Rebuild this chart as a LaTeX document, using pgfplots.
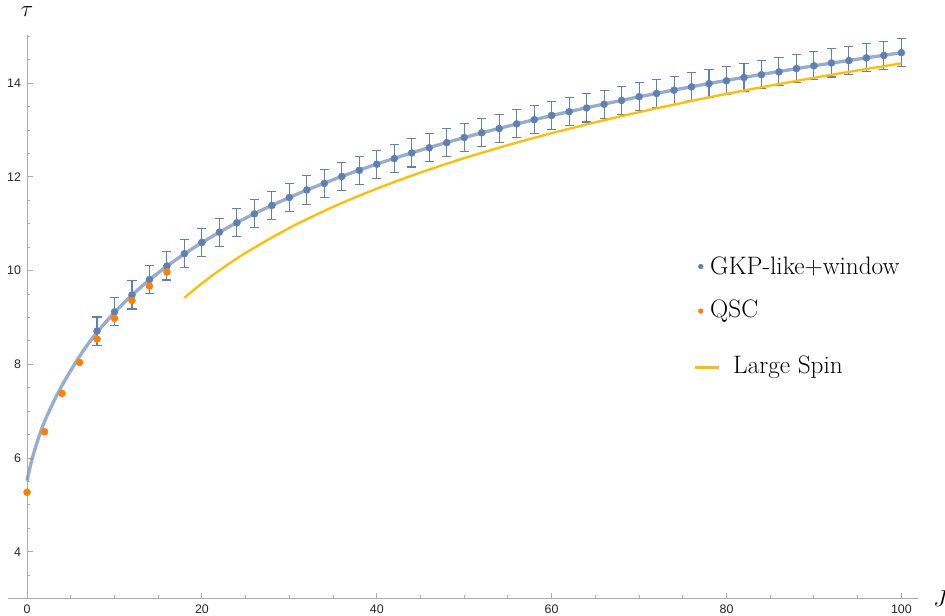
\documentclass[border=0pt]{standalone}
\usepackage{pgfplots}
\pgfplotsset{compat=1.18}
\usepackage{fontspec}
\newfontfamily\tickfont{Liberation Sans}
\definecolor{mblue}{HTML}{5E81B5}
\definecolor{morange}{HTML}{FF8000}
\definecolor{myellow}{HTML}{FFBF00}
\definecolor{axgray}{HTML}{ABABAB}
\begin{document}
\begin{tikzpicture}
\begin{axis}[
  name=ax,
  scale only axis, width=681.4pt, height=422.2pt,
  xmin=-2.18, xmax=101.9, ymin=3, ymax=15.03,
  axis x line=bottom, axis y line=middle,
  axis line style={axgray, line width=0.8pt, -},
  tick align=inside,
  xtick={0,20,...,100}, minor xtick={5,10,15,25,30,35,45,50,55,65,70,75,85,90,95},
  ytick={4,6,...,14}, minor ytick={3.5,4.5,5,5.5,6.5,7,7.5,8.5,9,9.5,10.5,11,11.5,12.5,13,13.5,14.5,15},
  major tick length=4.1pt, minor tick length=2.5pt,
  every tick/.style={axgray, line width=0.7pt},
  ticklabel style={font=\tickfont\fontsize{9.3}{11}\selectfont, text=black!85},
  /pgf/number format/assume math mode=true,
  xticklabel style={yshift=-1pt},
  yticklabel style={xshift=-1pt},
  clip=false,
  every axis y label/.style={at={(axis description cs:0.0209,1)}, anchor=south, yshift=10pt, font=\fontsize{16.9}{20}\selectfont},
  every axis x label/.style={at={(axis description cs:1,0)}, anchor=west, xshift=8pt, font=\fontsize{16.9}{20}\selectfont},
  xlabel={$J$}, ylabel={$\tau$},
  legend style={draw=none, fill=none, at={(axis cs:76.73,10.37)}, anchor=north west,
    font=\fontsize{18.9}{22}\selectfont, column sep=3.1pt, inner sep=0pt,
    nodes={inner sep=2pt}},
  legend cell align=left,
]
% blue smooth line
\addplot[mblue, opacity=0.65, line width=2.5pt, smooth, forget plot] coordinates {
(0,5.52) (0.5,5.93) (1,6.25) (1.5,6.53) (2,6.78) (3,7.19) (4,7.55) (5,7.87) (6,8.17) (7,8.44)
(8,8.683) (10,9.109) (12,9.478) (14,9.803) (16,10.094) (18,10.357) (20,10.598) (22,10.819)
(24,11.024) (26,11.214) (28,11.392) (30,11.560) (32,11.718) (34,11.867) (36,12.009) (38,12.144)
(40,12.272) (42,12.395) (44,12.512) (46,12.625) (48,12.733) (50,12.838) (52,12.938) (54,13.035)
(56,13.128) (58,13.219) (60,13.307) (62,13.392) (64,13.474) (66,13.554) (68,13.632) (70,13.708)
(72,13.781) (74,13.853) (76,13.923) (78,13.991) (80,14.058) (82,14.123) (84,14.186) (86,14.248)
(88,14.309) (90,14.369) (92,14.427) (94,14.484) (96,14.540) (98,14.594) (100,14.648)};
% blue points with error bars
\addplot[only marks, mark=*, mark size=2.6pt, mblue, forget plot,
  error bars/.cd, y dir=both, y fixed=0.3,
  error bar style={mblue, line width=0.8pt},
  error mark options={rotate=90, mark size=3.4pt, line width=0.8pt, mblue}] coordinates {
(8,8.71) (10,9.12) (12,9.48) (14,9.81) (16,10.10) (18,10.36) (20,10.60) (22,10.82)
(24,11.02) (26,11.21) (28,11.39) (30,11.56) (32,11.72) (34,11.86) (36,12.01) (38,12.14)
(40,12.27) (42,12.39) (44,12.51) (46,12.62) (48,12.73) (50,12.84) (52,12.94) (54,13.03)
(56,13.13) (58,13.22) (60,13.31) (62,13.39) (64,13.47) (66,13.55) (68,13.63) (70,13.71)
(72,13.78) (74,13.85) (76,13.92) (78,13.99) (80,14.05) (82,14.12) (84,14.18) (86,14.24)
(88,14.31) (90,14.37) (92,14.43) (94,14.48) (96,14.54) (98,14.59) (100,14.65)};
% orange points
\addplot[only marks, mark=*, mark size=2.6pt, morange, forget plot] coordinates {
(0,5.27) (2,6.56) (4,7.38) (6,8.04) (8,8.54) (10,8.98) (12,9.36) (14,9.67) (16,9.97)};
% yellow large spin
\addplot[myellow, line width=1.75pt, smooth, forget plot] coordinates {
(18,9.42) (20,9.727) (22,10.005) (25,10.378) (30,10.910) (35,11.359) (40,11.748) (45,12.092)
(50,12.399) (55,12.677) (60,12.931) (65,13.164) (70,13.380) (75,13.581) (80,13.770)
(85,13.947) (90,14.113) (95,14.271) (100,14.420)};
% legend
\addlegendimage{no markers, legend image code/.code={\draw[mblue, only marks, mark=*, mark size=1.75pt] plot coordinates {(0pt,0pt)};}}
\addlegendentry{\rule{0pt}{14pt}GKP-like+window}
\addlegendimage{no markers, legend image code/.code={\draw[morange, only marks, mark=*, mark size=1.75pt] plot coordinates {(0pt,-7.5pt)}; \path (-1.75pt,9.25pt) (1.75pt,-9.25pt);}}
\addlegendentry{\rule{0pt}{26.7pt}QSC}
\addlegendimage{no markers, legend image code/.code={\draw[myellow, line width=1.75pt, overlay] (-4.5pt,-12.75pt) -- (13.5pt,-12.75pt); \path (-1.75pt,14.5pt) (1.75pt,-14.5pt);}}
\addlegendentry{\hspace*{17.25pt}\rule{0pt}{36.5pt}Large Spin}
\end{axis}
\pgfresetboundingbox
\path ([shift={(-6pt,-12.9pt)}]ax.south west) rectangle ([shift={(20.25pt,26.1pt)}]ax.north east);
\end{tikzpicture}
\end{document}
